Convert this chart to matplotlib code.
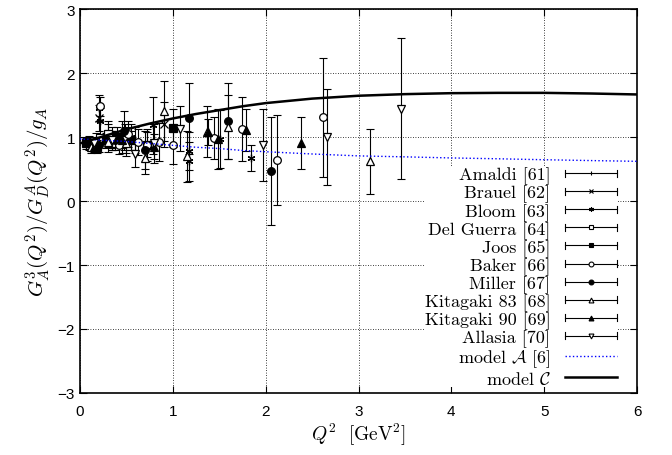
import numpy as np
import matplotlib
matplotlib.use("Agg")
import matplotlib.pyplot as plt
from matplotlib.lines import Line2D
from matplotlib.legend_handler import HandlerLine2D

plt.rcParams['mathtext.fontset'] = 'cm'
plt.rcParams['font.family'] = ['Liberation Sans', 'DejaVu Sans']

# experimental points: Q^2, G_A^3/G_D^A/g_A, error
amaldi_x = [0.11, 0.17, 0.35, 0.59]
amaldi_y = [0.90, 0.95, 1.00, 0.95]
amaldi_e = [0.10, 0.12, 0.15, 0.20]

brauel_x = [0.20, 0.30, 0.45, 0.90]
brauel_y = [1.30, 1.05, 1.00, 1.20]
brauel_e = [0.20, 0.20, 0.25, 0.35]

bloom_x = [0.21, 0.22, 0.35, 0.48, 0.55, 0.79, 1.17, 1.17, 1.51, 1.84]
bloom_y = [1.45, 1.25, 0.95, 1.05, 1.00, 1.18, 0.78, 0.62, 0.97, 0.67]
bloom_e = [0.20, 0.20, 0.15, 0.15, 0.20, 0.45, 0.30, 0.30, 0.45, 0.20]

guerra_x = [0.10, 0.30, 0.50]
guerra_y = [0.90, 1.05, 0.95]
guerra_e = [0.10, 0.15, 0.20]

joos_x = [0.07, 0.18, 0.28, 0.40, 0.55, 0.72, 1.00]
joos_y = [0.90, 0.85, 0.95, 1.00, 0.95, 0.88, 1.14]
joos_e = [0.08, 0.10, 0.12, 0.15, 0.15, 0.20, 0.30]

baker_x = [0.22, 0.33, 0.42, 0.52, 0.62, 0.72, 0.85, 1.00, 1.44, 1.74, 2.12, 2.62]
baker_y = [1.48, 0.95, 0.88, 1.05, 0.92, 0.88, 0.92, 0.88, 0.98, 1.12, 0.64, 1.31]
baker_e = [0.15, 0.12, 0.15, 0.20, 0.20, 0.25, 0.30, 0.30, 0.33, 0.50, 0.70, 0.93]

miller_x = [0.10, 0.20, 0.38, 0.47, 0.70, 1.17, 1.59, 2.06]
miller_y = [0.92, 0.88, 0.95, 1.10, 0.80, 1.29, 1.25, 0.47]
miller_e = [0.10, 0.12, 0.15, 0.30, 0.30, 0.55, 0.60, 0.85]

kit83_x = [0.12, 0.30, 0.50, 0.70, 0.90, 1.15, 1.37, 1.59, 3.12]
kit83_y = [0.85, 0.92, 0.90, 0.67, 1.41, 0.70, 1.08, 1.15, 0.62]
kit83_e = [0.10, 0.15, 0.20, 0.25, 0.47, 0.40, 0.40, 0.50, 0.51]

kit90_x = [0.15, 0.45, 0.80, 1.375, 1.49, 1.79, 2.38]
kit90_y = [0.85, 0.95, 0.85, 1.08, 0.97, 1.11, 0.91]
kit90_e = [0.08, 0.12, 0.20, 0.20, 0.47, 0.33, 0.41]

allasia_x = [0.15, 0.35, 0.59, 0.80, 1.08, 1.975, 2.66, 3.46]
allasia_y = [0.90, 0.95, 0.73, 0.90, 1.13, 0.875, 1.00, 1.44]
allasia_e = [0.10, 0.15, 0.20, 0.30, 0.35, 0.57, 0.75, 1.10]

# model curves
model_q2 = [0.0, 0.25, 0.5, 0.75, 1.0, 1.25, 1.5, 1.75, 2.0, 2.5, 3.0, 3.5, 4.0, 4.5, 5.0, 5.5, 6.0]
model_a = [0.97, 0.95, 0.93, 0.90, 0.87, 0.84, 0.82, 0.79, 0.77, 0.735, 0.705, 0.69, 0.673, 0.66, 0.645, 0.632, 0.62]
model_c = [0.90, 1.01, 1.12, 1.21, 1.29, 1.36, 1.42, 1.48, 1.53, 1.60, 1.645, 1.67, 1.685, 1.69, 1.69, 1.68, 1.665]


class HandlerErr(HandlerLine2D):
    # gnuplot-like key sample: horizontal bar with caps
    def create_artists(self, legend, orig_handle, xdescent, ydescent,
                       width, height, fontsize, trans):
        arts = super().create_artists(legend, orig_handle, xdescent, ydescent,
                                      width, height, fontsize, trans)
        y = height / 2 - ydescent
        for x in (-xdescent, width - xdescent):
            arts.append(Line2D([x, x], [y - 2.5, y + 2.5], color='k', lw=0.8,
                               transform=trans))
        return arts


fig = plt.figure(figsize=(6.72, 4.56), dpi=100)
ax = fig.add_axes([0.119, 0.136, 0.829, 0.842])

series = [
    (amaldi_x, amaldi_y, amaldi_e, '|', 'k', 'Amaldi [61]'),
    (brauel_x, brauel_y, brauel_e, 'x', 'k', 'Brauel [62]'),
    (bloom_x, bloom_y, bloom_e, (6, 2, 0), 'k', 'Bloom [63]'),
    (guerra_x, guerra_y, guerra_e, 's', 'w', 'Del Guerra [64]'),
    (joos_x, joos_y, joos_e, 's', 'k', 'Joos [65]'),
    (baker_x, baker_y, baker_e, 'o', 'w', 'Baker [66]'),
    (miller_x, miller_y, miller_e, 'o', 'k', 'Miller [67]'),
    (kit83_x, kit83_y, kit83_e, '^', 'w', 'Kitagaki 83 [68]'),
    (kit90_x, kit90_y, kit90_e, '^', 'k', 'Kitagaki 90 [69]'),
    (allasia_x, allasia_y, allasia_e, 'v', 'w', 'Allasia [70]'),
]

handles = []
for xs, ys, es, mk, fc, lab in series:
    ax.errorbar(xs, ys, yerr=es, fmt='none', ecolor='k', elinewidth=0.8,
                capsize=3, capthick=0.8, zorder=3)
    ax.plot(xs, ys, ls='none', marker=mk, ms=5.5, mfc=fc, mec='k', mew=0.9, zorder=4)
    handles.append(Line2D([], [], color='k', lw=0.8, marker=mk, ms=3.5,
                          mfc=fc, mec='k', mew=0.8, label=lab))

la, = ax.plot(model_q2, model_a, color='blue', ls=':', lw=1.0, zorder=6,
              label=r'model $\mathcal{A}$ [6]')
lc, = ax.plot(model_q2, model_c, color='k', ls='-', lw=1.8, zorder=6,
              label=r'model $\mathcal{C}$')

ax.set_xlim(0, 6)
ax.set_ylim(-3, 3)
ax.set_xticks(range(0, 7))
ax.set_yticks(range(-3, 4))
ax.tick_params(direction='in', top=True, right=True, length=5, labelsize=11)
ax.tick_params(axis='x', pad=8)
ax.grid(True, color='k', ls=(0, (1, 2)), lw=0.6)
for s in ax.spines.values():
    s.set_linewidth(1.2)

ax.set_xlabel(r'$Q^2\ \ [\mathrm{GeV}^2]$', fontsize=14, labelpad=2)
ax.set_ylabel(r'$G_A^3(Q^2)/G_D^A(Q^2)/g_A$', fontsize=15, labelpad=4)

hmap = {h: HandlerErr(numpoints=1) for h in handles}
leg = ax.legend(handles + [la, lc], [h.get_label() for h in handles + [la, lc]],
                handler_map=hmap, loc='lower right', bbox_to_anchor=(0.982, -0.009),
                markerfirst=False, prop={'family': 'cmr10', 'size': 13},
                handlelength=2.9, labelspacing=0.02, borderpad=0.05, handletextpad=0.8,
                frameon=True, fancybox=False, edgecolor='none',
                facecolor='white', framealpha=1.0, alignment='right')
for t in leg.get_texts():
    t.set_ha('right')
leg.set_zorder(5)

fig.savefig('out.png', dpi=100)
